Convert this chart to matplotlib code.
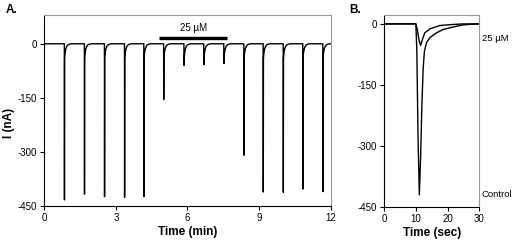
import matplotlib
matplotlib.use("Agg")
import matplotlib.pyplot as plt
import numpy as np

plt.rcParams['font.family'] = ['Liberation Sans', 'DejaVu Sans']
plt.rcParams['axes.unicode_minus'] = False

# panel A: repeated current responses (time in min, peak current in nA)
spike_times = [0.84, 1.68, 2.52, 3.36, 4.17, 5.00, 5.85, 6.68, 7.52, 8.36,
               9.17, 10.01, 10.83, 11.67]
spike_peaks = [-433, -417, -424, -426, -424, -154, -60, -58, -55, -309,
               -411, -412, -403, -410]
rec_dt = [0.0, 0.02, 0.05, 0.09, 0.14, 0.20, 0.28]
rec_i = [-40, -25, -14, -7, -3, -1, 0]
bar_start, bar_end = 4.82, 7.67
bar_label = "25 µM"

# panel B: single responses (time in sec, current in nA)
ctrl_t = [0, 10.0, 10.3, 10.7, 11.1, 11.5, 11.9, 12.3, 12.7, 13.4, 14.5,
          16.5, 18.5, 21.5, 24.5, 27, 30]
ctrl_i = [0, 0, -60, -280, -420, -330, -200, -110, -67, -45, -33,
          -22, -14, -8, -3, -1, 0]
drug_t = [0, 10.0, 10.5, 11.0, 11.5, 12.0, 12.8, 14.5, 17.5, 21.5, 25, 30]
drug_i = [0, 0, -15, -40, -53, -40, -22, -12, -4, -1.5, 0, 0]


def build_trace():
    t, y = [0.0], [0.0]
    for t0, pk in zip(spike_times, spike_peaks):
        t += [t0, t0 + 0.005]
        y += [0, pk]
        for dt, v in zip(rec_dt, rec_i):
            t.append(t0 + 0.012 + dt)
            y.append(max(v, pk))
    t.append(12.0)
    y.append(0)
    return np.array(t), np.array(y)


def style_axes(ax):
    for side in ['top', 'right']:
        ax.spines[side].set_color('#999999')
    for side in ['left', 'bottom']:
        ax.spines[side].set_color('black')
    for sp in ax.spines.values():
        sp.set_linewidth(0.8)
    ax.tick_params(direction='out', length=3, width=0.8, labelsize=7, pad=2)


fig = plt.figure(figsize=(5.12, 2.45), dpi=100)
axA = fig.add_axes([0.0865, 0.159, 0.5594, 0.780])
axB = fig.add_axes([0.750, 0.155, 0.1865, 0.784])

t, y = build_trace()
axA.plot(t, y, color='black', lw=1.0)
axA.plot([bar_start, bar_end], [17, 17], color='black', lw=2.4, solid_capstyle='butt')
axA.text((bar_start + bar_end) / 2, 30, bar_label, ha='center', va='bottom', fontsize=7)
axA.set_xlim(0, 12)
axA.set_ylim(-450, 80)
axA.set_xticks([0, 3, 6, 9, 12])
axA.set_yticks([0, -150, -300, -450])
axA.set_xlabel("Time (min)", fontsize=8.5, fontweight='bold', labelpad=2)
style_axes(axA)
fig.text(0.018, 0.498, "I (nA)", rotation=90, ha='center', va='center',
         fontsize=8.5, fontweight='bold')

axB.plot(ctrl_t, ctrl_i, color='black', lw=1.0)
axB.plot(drug_t, drug_i, color='black', lw=1.0)
axB.set_xlim(0, 30)
axB.set_ylim(-450, 22)
axB.set_xticks([0, 10, 20, 30])
axB.set_yticks([0, -150, -300, -450])
axB.set_xlabel("Time (sec)", fontsize=8.5, fontweight='bold', labelpad=2)
style_axes(axB)
axB.text(1.025, -35, "25 µM", transform=axB.get_yaxis_transform(), fontsize=6.8, va='center')
axB.text(1.025, -418, "Control", transform=axB.get_yaxis_transform(), fontsize=6.8, va='center')

fig.text(0.012, 0.985, "A.", fontsize=8.5, fontweight='bold', va='top')
fig.text(0.683, 0.985, "B.", fontsize=8.5, fontweight='bold', va='top')

fig.savefig("out.png", dpi=100)
